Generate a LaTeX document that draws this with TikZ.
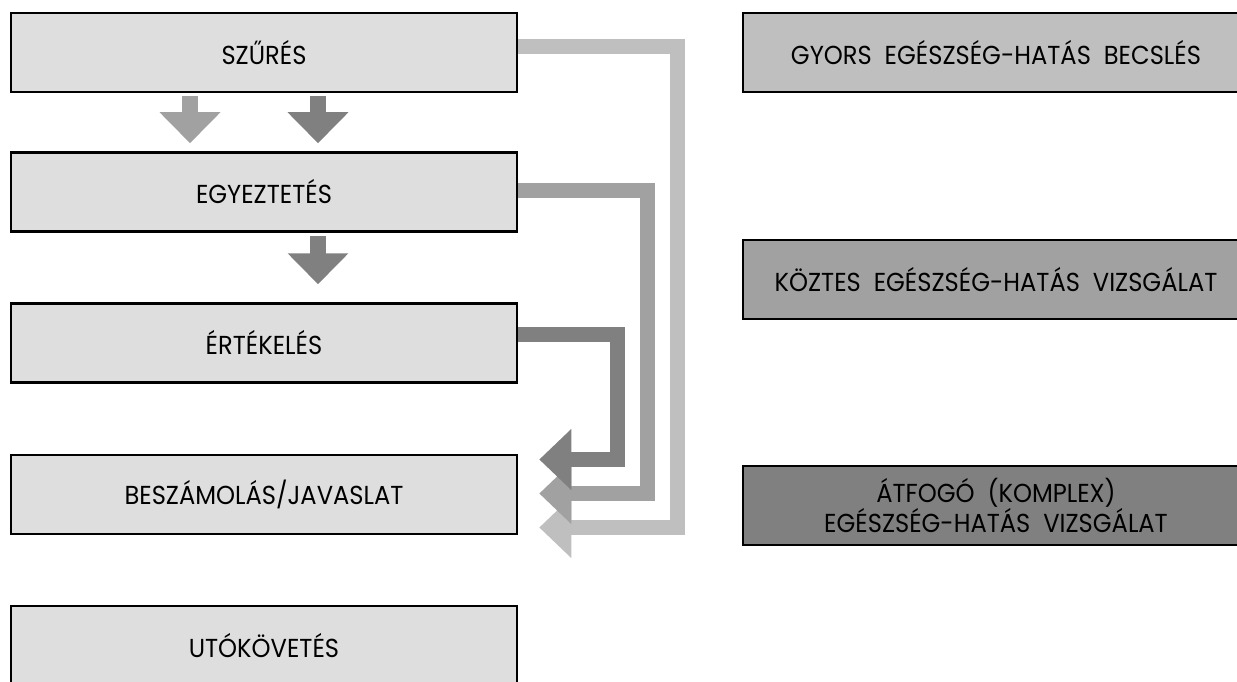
\documentclass[tikz,border=0pt]{standalone}
\usepackage{fontspec}
\setmainfont{Poppins}[FakeStretch=0.93]
\usetikzlibrary{arrows.meta,backgrounds}
\definecolor{phasefill}{gray}{0.87}
\definecolor{lightband}{gray}{0.75}
\definecolor{midband}{gray}{0.63}
\definecolor{darkband}{gray}{0.5}

\begin{document}
\begin{tikzpicture}[x=1pt,y=-1pt,
    phase/.style={draw,line width=2.5pt,fill=phasefill,minimum width=506pt,
      minimum height=79pt,inner sep=0pt,align=center,
      font=\fontsize{26}{21}\selectfont},
    band/.style={line width=15pt,-{Triangle[width=59pt,length=32pt]}},
    drop/.style={line width=16pt,-{Triangle[width=59pt,length=31pt]}}]
  \useasboundingbox (0,0) rectangle (1237,682);
  \clip (0,0) rectangle (1237,682);
  % steps of the procedure
  \node[phase] (szures) at (264,52.5) {SZŰRÉS};
  \node[phase] (egyeztetes) at (264,192) {EGYEZTETÉS};
  \node[phase] (ertekeles) at (264,343) {ÉRTÉKELÉS};
  \node[phase] (beszamolas) at (264,494.5) {BESZÁMOLÁS/JAVASLAT};
  \node[phase] (utokovetes) at (264,645.5) {UTÓKÖVETÉS};
  % kinds of assessment
  \node[phase,fill=lightband] (gyors) at (996,52.5)
    {GYORS\ \ EGÉSZSÉG-HATÁS\ \ BECSLÉS};
  \node[phase,fill=midband] (koztes) at (996,279.5)
    {KÖZTES\ \ EGÉSZSÉG-HATÁS\ \ VIZSGÁLAT};
  \node[phase,fill=darkband] (atfogo) at (996,505.5)
    {ÁTFOGÓ\ \ (KOMPLEX)\\EGÉSZSÉG-HATÁS\ \ VIZSGÁLAT};
  \begin{scope}[on background layer]
    \draw[drop,midband] ([xshift=-74pt,yshift=-3pt]szures.south)
      -- ([xshift=-74pt,yshift=8pt]egyeztetes.north);
    \draw[drop,darkband] ([xshift=54pt,yshift=-3pt]szures.south)
      -- ([xshift=54pt,yshift=8pt]egyeztetes.north);
    \draw[drop,darkband] ([xshift=54pt,yshift=-3pt]egyeztetes.south)
      -- ([xshift=54pt,yshift=18pt]ertekeles.north);
    \draw[band,lightband] ([yshift=6pt]szures.east) -- ++(159,0)
      |- ([xshift=21pt,yshift=-33pt]beszamolas.east);
    \draw[band,midband] ([yshift=1.5pt]egyeztetes.east) -- ++(129,0)
      |- ([xshift=21pt,yshift=1pt]beszamolas.east);
    \draw[band,darkband] ([yshift=8.5pt]ertekeles.east) -- ++(99,0)
      |- ([xshift=21pt,yshift=35pt]beszamolas.east);
  \end{scope}
\end{tikzpicture}
\end{document}
